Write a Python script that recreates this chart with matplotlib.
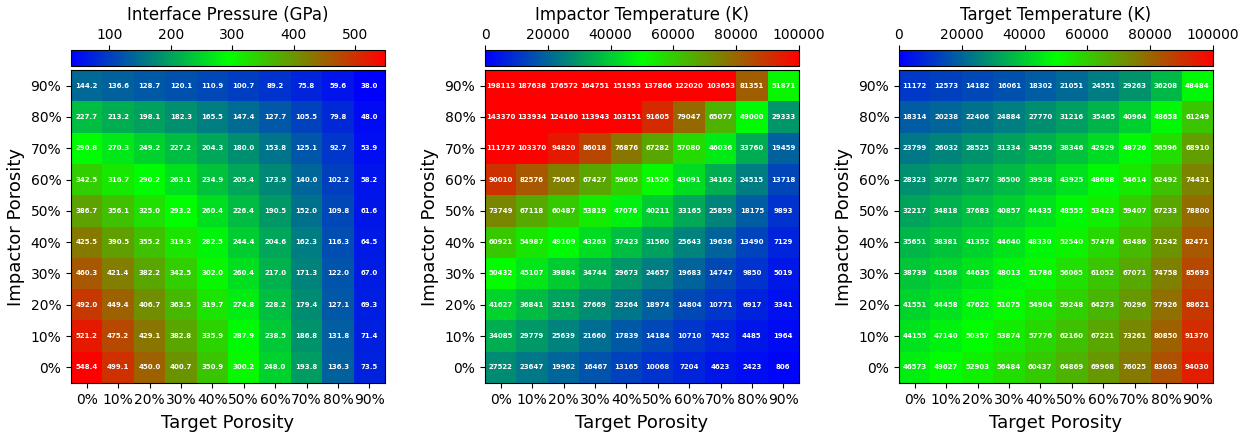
import numpy as np
import matplotlib
matplotlib.use('Agg')
import matplotlib.pyplot as plt
from matplotlib.colors import LinearSegmentedColormap

porosity_labels = ['0%', '10%', '20%', '30%', '40%', '50%', '60%', '70%', '80%', '90%']

# rows = impactor porosity 0%..90%, columns = target porosity 0%..90%
pressure = [
    [548.4, 499.1, 450.0, 400.7, 350.9, 300.2, 248.0, 193.8, 136.3, 73.5],
    [521.2, 475.2, 429.1, 382.8, 335.9, 287.9, 238.5, 186.8, 131.8, 71.4],
    [492.0, 449.4, 406.7, 363.5, 319.7, 274.8, 228.2, 179.4, 127.1, 69.3],
    [460.3, 421.4, 382.2, 342.5, 302.0, 260.4, 217.0, 171.3, 122.0, 67.0],
    [425.5, 390.5, 355.2, 319.3, 282.5, 244.4, 204.6, 162.3, 116.3, 64.5],
    [386.7, 356.1, 325.0, 293.2, 260.4, 226.4, 190.5, 152.0, 109.8, 61.6],
    [342.5, 316.7, 290.2, 263.1, 234.9, 205.4, 173.9, 140.0, 102.2, 58.2],
    [290.8, 270.3, 249.2, 227.2, 204.3, 180.0, 153.8, 125.1, 92.7, 53.9],
    [227.7, 213.2, 198.1, 182.3, 165.5, 147.4, 127.7, 105.5, 79.8, 48.0],
    [144.2, 136.6, 128.7, 120.1, 110.9, 100.7, 89.2, 75.8, 59.6, 38.0],
]

impactor_temp = [
    [27522, 23647, 19962, 16467, 13165, 10068, 7204, 4623, 2423, 806],
    [34085, 29779, 25639, 21660, 17839, 14184, 10710, 7452, 4485, 1964],
    [41627, 36841, 32191, 27669, 23264, 18974, 14804, 10771, 6917, 3341],
    [50432, 45107, 39884, 34744, 29673, 24657, 19683, 14747, 9850, 5019],
    [60921, 54987, 49109, 43263, 37423, 31560, 25643, 19636, 13490, 7129],
    [73749, 67118, 60487, 53819, 47076, 40211, 33165, 25859, 18175, 9893],
    [90010, 82576, 75065, 67427, 59605, 51526, 43091, 34162, 24515, 13718],
    [111737, 103370, 94820, 86018, 76876, 67282, 57080, 46036, 33760, 19459],
    [143370, 133934, 124160, 113943, 103151, 91605, 79047, 65077, 49000, 29333],
    [198113, 187638, 176572, 164751, 151953, 137866, 122020, 103653, 81351, 51871],
]

target_temp = [
    [46573, 49627, 52903, 56484, 60437, 64869, 69968, 76025, 83603, 94030],
    [44155, 47140, 50357, 53874, 57776, 62160, 67221, 73261, 80850, 91370],
    [41551, 44458, 47622, 51075, 54904, 59248, 64273, 70296, 77926, 88621],
    [38739, 41568, 44635, 48013, 51786, 56065, 61052, 67071, 74758, 85693],
    [35651, 38381, 41352, 44640, 48330, 52540, 57478, 63486, 71242, 82471],
    [32217, 34818, 37683, 40857, 44435, 48555, 53423, 59407, 67233, 78800],
    [28323, 30776, 33477, 36500, 39938, 43925, 48688, 54614, 62492, 74431],
    [23799, 26032, 28525, 31334, 34559, 38346, 42929, 48726, 56596, 68910],
    [18314, 20238, 22406, 24884, 27770, 31216, 35465, 40964, 48658, 61249],
    [11172, 12573, 14182, 16061, 18302, 21051, 24551, 29263, 36208, 48484],
]

cmap = LinearSegmentedColormap.from_list('bgr', ['blue', 'lime', 'red'])

W, H = 1254, 438
fig = plt.figure(figsize=(W / 100, H / 100), dpi=100)

panels = [
    (pressure, 'Interface Pressure (GPa)', None, None, '{:.1f}', 71),
    (impactor_temp, 'Impactor Temperature (K)', 0, 100000, '{:.0f}', 485),
    (target_temp, 'Target Temperature (K)', 0, 100000, '{:.0f}', 899),
]

for data, label, vmin, vmax, fmt, left in panels:
    arr = np.array(data, dtype=float)
    ax = fig.add_axes([left / W, (H - 383) / H, 314 / W, 313 / H])
    cax = fig.add_axes([left / W, (H - 66) / H, 314 / W, 16 / H])
    im = ax.imshow(arr, cmap=cmap, origin='lower', vmin=vmin, vmax=vmax, aspect='auto')
    for i in range(arr.shape[0]):
        for j in range(arr.shape[1]):
            ax.text(j, i, fmt.format(arr[i, j]), ha='center', va='center',
                    color='white', fontsize=5, fontweight='bold')
    ax.set_xticks(range(10))
    ax.set_xticklabels(porosity_labels, fontsize=10)
    ax.set_yticks(range(10))
    ax.set_yticklabels(porosity_labels, fontsize=10)
    ax.set_xlabel('Target Porosity', fontsize=13, labelpad=5)
    ax.set_ylabel('Impactor Porosity', fontsize=13, labelpad=4)

    cb = fig.colorbar(im, cax=cax, orientation='horizontal')
    cax.xaxis.set_ticks_position('top')
    cax.xaxis.set_label_position('top')
    cax.tick_params(labelsize=10, pad=2)
    cb.set_label(label, fontsize=12, labelpad=6)

fig.savefig('out.png', dpi=100)
